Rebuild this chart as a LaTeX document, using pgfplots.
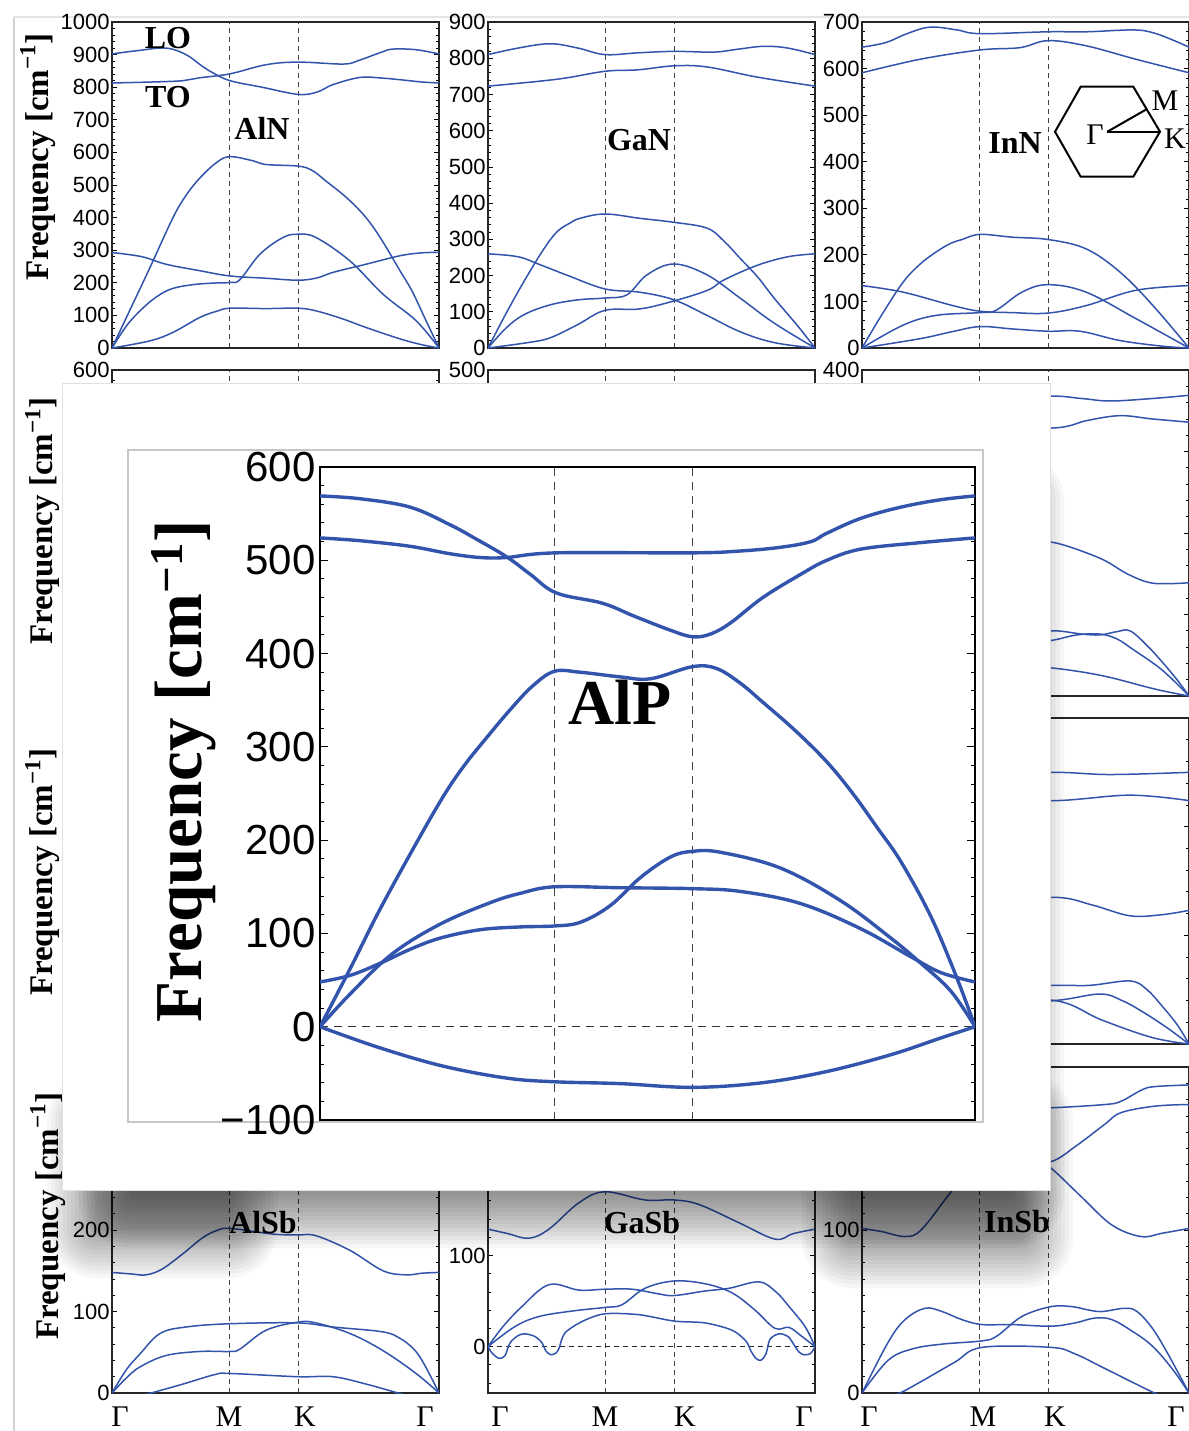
\documentclass[border=0pt]{standalone}
\usepackage{fontspec}
\setmainfont{Liberation Serif}
\setsansfont{Liberation Sans}
\usepackage{pgfplots}
\pgfplotsset{compat=1.18}
\definecolor{band}{RGB}{50,84,172}
\pgfplotsset{
  bs/.style={band, line width=0.75pt, smooth, tension=0.6, no markers},
  bl/.style={band, line width=1.7pt, smooth, tension=0.6, no markers},
  panel/.style={
    scale only axis, width=163.5pt, height=163pt,
    anchor=south west,
    xmin=0, xmax=327,
    xtick={117,186}, xticklabels={}, xmajorgrids,
    major grid style={dash pattern=on 2.5pt off 2pt, black!75, line width=0.45pt},
    xtick style={draw=none},
    ytick style={black, line width=0.4pt},
    major tick length=2.5pt, minor tick length=1.3pt,
    minor y tick num=4,
    axis line style={line width=0.7pt, black!85},
    yticklabel style={font=\fontsize{11}{11}\sffamily, inner sep=1pt},
    /pgf/number format/assume math mode=true,
    /pgf/number format/1000 sep={},
  },
}
\newcommand{\lab}[1]{\fontsize{16}{16}\selectfont\bfseries #1}
\newcommand{\flab}{\fontsize{16.5}{16.5}\selectfont\bfseries Frequency [cm\textsuperscript{−1}]}
\begin{document}
\begin{tikzpicture}[x=0.5pt,y=-0.5pt]
\useasboundingbox (0,0) rectangle (1189,1431);
\fill[white] (0,0) rectangle (1189,1431);
\draw[black!18, line width=0.8pt] (14,17) -- (14,1431);
\draw[black!10, line width=0.8pt] (14,17) -- (1189,17);

% ---------------- Row 1 ----------------
\begin{axis}[panel, at={(56pt,-174pt)}, ymin=0, ymax=1000, ytick={0,100,...,1000}]
\addplot[bs] coordinates {(0,902) (25,912) (54,920) (74,900) (90,865) (101,844) (118,820) (150,800) (186,778) (205,785) (221,808) (248,830) (270,828) (288,823) (310,816) (327,813)};
\addplot[bs] coordinates {(0,813) (40,816) (71,820) (88,829) (118,841) (154,869) (186,877) (231,871) (245,880) (254,890) (270,908) (281,917) (304,915) (327,902)};
\addplot[bs] coordinates {(0,0) (20,130) (38,247) (61,400) (74,468) (88,522) (105,570) (118,587) (140,575) (154,563) (186,558) (200,545) (214,512) (235,460) (254,400) (270,330) (288,237) (300,175) (314,84) (327,0)};
\addplot[bs] coordinates {(0,293) (30,280) (54,257) (88,237) (118,221) (154,214) (186,208) (205,215) (221,232) (254,257) (288,283) (310,292) (327,293)};
\addplot[bs] coordinates {(0,0) (15,70) (30,120) (45,158) (60,182) (80,194) (100,199) (118,201) (128,210) (148,288) (171,339) (186,349) (204,339) (238,267) (271,165) (304,84) (327,0)};
\addplot[bs] coordinates {(0,0) (38,22) (61,48) (88,94) (105,113) (118,122) (154,121) (186,122) (204,114) (230,90) (254,63) (288,28) (310,10) (327,0)};
\end{axis}

\begin{axis}[panel, at={(244pt,-174pt)}, ymin=0, ymax=900, ytick={0,100,...,900}]
\addplot[bs] coordinates {(0,810) (30,828) (62,840) (90,828) (117,810) (150,815) (186,819) (226,817) (250,825) (276,833) (300,828) (327,810)};
\addplot[bs] coordinates {(0,723) (69,742) (117,764) (150,768) (186,779) (219,776) (269,748) (327,723)};
\addplot[bs] coordinates {(0,0) (18,95) (36,184) (55,270) (69,321) (82,345) (92,358) (117,370) (152,358) (186,347) (219,331) (236,295) (252,248) (270,195) (286,138) (310,60) (327,0)};
\addplot[bs] coordinates {(0,260) (30,252) (52,230) (80,200) (117,163) (152,154) (186,133) (219,90) (252,45) (286,15) (327,0)};
\addplot[bs] coordinates {(0,0) (40,15) (62,28) (90,65) (117,104) (152,108) (186,130) (220,160) (236,188) (269,228) (300,252) (327,260)};
\addplot[bs] coordinates {(0,0) (18,55) (36,92) (62,119) (90,133) (117,138) (139,147) (159,202) (186,232) (219,202) (252,138) (286,69) (327,0)};
\end{axis}

\begin{axis}[panel, at={(431pt,-174pt)}, ymin=0, ymax=700, ytick={0,100,...,700}]
\addplot[bs] coordinates {(0,646) (24,656) (45,675) (68,689) (95,683) (118,675) (186,679) (224,679) (271,683) (291,677) (310,662) (327,646)};
\addplot[bs] coordinates {(0,591) (58,620) (118,640) (158,645) (186,660) (224,649) (274,620) (327,591)};
\addplot[bs] coordinates {(0,0) (20,72) (41,141) (58,180) (74,206) (88,224) (100,233) (118,244) (150,238) (186,233) (224,213) (258,163) (291,91) (327,0)};
\addplot[bs] coordinates {(0,134) (41,120) (91,91) (118,79) (150,76) (186,75) (224,91) (274,124) (327,134)};
\addplot[bs] coordinates {(0,0) (41,49) (74,70) (118,76) (134,81) (160,120) (186,136) (224,120) (274,63) (327,0)};
\addplot[bs] coordinates {(0,0) (58,20) (90,35) (118,46) (150,41) (186,36) (218,36) (258,16) (300,4) (327,0)};
\end{axis}

% ---------------- Row 2 ----------------
\begin{axis}[panel, at={(56pt,-348pt)}, ymin=0, ymax=600, ytick={0,100,...,600}]
\addplot[draw=none] coordinates {(0,0)};
\end{axis}
\begin{axis}[panel, at={(244pt,-348pt)}, ymin=0, ymax=500, ytick={0,100,...,500}]
\addplot[draw=none] coordinates {(0,0)};
\end{axis}
\begin{axis}[panel, at={(431pt,-348pt)}, ymin=0, ymax=400, ytick={0,100,...,400}]
\addplot[bs] coordinates {(0,369) (60,365) (118,362) (186,368) (220,365) (248,362) (290,365) (327,369)};
\addplot[bs] coordinates {(0,336) (60,332) (118,330) (193,329) (225,338) (258,344) (290,340) (327,336)};
\addplot[bs] coordinates {(0,139) (50,150) (118,175) (170,186) (193,188) (238,169) (265,150) (288,139) (310,138) (327,139)};
\addplot[bs] coordinates {(0,0) (50,45) (118,78) (160,78) (193,80) (220,76) (238,75) (255,79) (268,80) (285,62) (300,42) (315,20) (327,0)};
\addplot[bs] coordinates {(0,0) (50,30) (118,55) (160,62) (193,69) (215,75) (238,76) (255,70) (270,58) (300,32) (327,0)};
\addplot[bs] coordinates {(0,0) (60,20) (118,35) (160,36) (193,34) (240,25) (288,10) (310,4) (327,0)};
\end{axis}

% ---------------- Row 3 ----------------
\begin{axis}[panel, at={(431pt,-522pt)}, ymin=0, ymax=300, ytick={0,100,...,300}]
\addplot[bs] coordinates {(0,250) (118,248) (193,250) (248,248) (327,250)};
\addplot[bs] coordinates {(0,224) (118,227) (193,224) (268,229) (327,224)};
\addplot[bs] coordinates {(0,123) (60,126) (118,131) (193,135) (230,128) (268,118) (300,119) (327,123)};
\addplot[bs] coordinates {(0,0) (60,40) (118,52) (193,54) (228,54) (268,58) (285,50) (300,35) (315,18) (327,0)};
\addplot[bs] coordinates {(0,0) (60,28) (118,36) (193,40) (238,46) (260,40) (280,30) (305,15) (327,0)};
\addplot[bs] coordinates {(0,0) (60,25) (118,38) (193,40) (240,22) (290,6) (327,0)};
\end{axis}

% ---------------- Row 4 ----------------
\begin{axis}[panel, at={(56pt,-696.5pt)}, ymin=0, ymax=400, ytick={0,100,...,400}]
\addplot[bs] coordinates {(0,148) (20,146) (34,145) (50,152) (71,171) (90,190) (104,199) (118,202) (161,195) (186,194) (204,193) (238,175) (271,150) (294,145) (310,147) (327,148)};
\addplot[bs] coordinates {(0,0) (14,28) (28,48) (48,73) (74,81) (118,85) (186,86) (221,81) (271,75) (288,67) (300,56) (308,44) (318,22) (327,0)};
\addplot[bs] coordinates {(0,0) (14,18) (28,32) (54,46) (88,51) (118,51) (128,54) (154,77) (186,87) (204,86) (238,73) (271,52) (304,24) (327,0)};
\addplot[bs] coordinates {(0,-12) (20,-6) (39,0) (71,11) (104,23) (118,24) (186,20) (221,20) (254,11) (286,0) (310,-8) (327,-12)};
\end{axis}

\begin{axis}[panel, at={(244pt,-696.5pt)}, ymin=-51, ymax=307, ytick={0,100,200,300},
  minor ytick={-40,-20,20,40,60,80,120,140,160,180,220,240,260,280}]
\draw[dash pattern=on 2.5pt off 2pt, black!85, line width=0.45pt] (axis cs:0,0) -- (axis cs:327,0);
\addplot[bs] coordinates {(0,129) (20,124) (41,119) (61,129) (91,158) (117,170) (157,161) (186,161) (211,156) (251,136) (287,118) (305,124) (327,129)};
\addplot[bs] coordinates {(0,0) (15,22) (34,44) (61,68) (91,62) (117,63) (144,63) (170,58) (186,56) (217,61) (241,64) (271,71) (288,60) (301,44) (317,22) (327,0)};
\addplot[bs] coordinates {(0,0) (27,22) (51,33) (84,39) (117,43) (134,46) (157,64) (186,72) (217,69) (244,59) (267,40) (287,20) (301,21) (314,11) (327,0)};
\addplot[bs, tension=0.5] coordinates {(0,0) (4,-7) (11,-13) (17,-10) (22,4) (30,12) (37,14) (47,11) (54,4) (58,-5) (63,-9) (68,-7) (71,-2) (77,15) (95,28) (117,36) (151,35) (186,28) (217,26) (244,18) (258,6) (263,-5) (268,-13) (273,-15) (278,-8) (282,8) (291,14) (300,11) (306,2) (311,-6) (316,-9) (322,-8) (325,-4) (327,0)};
\end{axis}

\begin{axis}[panel, at={(431pt,-696.5pt)}, ymin=0, ymax=200, ytick={0,100,200}, minor y tick num=9]
\addplot[bs] coordinates {(0,189) (30,188) (60,182) (90,178) (120,176) (150,175) (189,175) (243,177) (259,179) (280,186) (293,188) (327,189)};
\addplot[bs] coordinates {(0,177) (40,172) (80,160) (120,150) (160,143) (189,142) (215,152) (243,165) (259,172) (293,176) (327,177)};
\addplot[bs] coordinates {(0,101) (20,99) (43,96) (59,100) (86,121) (110,140) (140,150) (170,145) (189,138) (220,120) (250,103) (279,96) (300,98) (327,101)};
\addplot[bs] coordinates {(0,0) (26,31) (43,45) (63,52) (80,50) (100,45) (120,42) (150,42) (189,41) (213,43) (233,46) (250,45) (270,38) (290,29) (310,15) (327,0)};
\addplot[bs] coordinates {(0,0) (26,20) (50,27) (80,30) (120,32) (135,35) (160,47) (189,53) (210,53) (226,51) (240,50) (263,52) (275,50) (290,40) (305,25) (327,0)};
\addplot[bs] coordinates {(0,-8) (20,-4) (38,0) (59,7) (93,19) (120,28) (189,28) (213,24) (243,15) (289,1) (305,-3) (327,-6)};
\end{axis}

% ---------------- labels ----------------
\node at (168,38) {\lab{LO}};
\node at (168,97) {\lab{TO}};
\node at (262,128) {\lab{AlN}};
\node at (639,140) {\lab{GaN}};
\node at (1015,143) {\lab{InN}};
\node at (263,1223) {\lab{AlSb}};
\node at (642,1223) {\lab{GaSb}};
\node at (1017,1222) {\lab{InSb}};

\node[rotate=90, anchor=base] at (48,157) {\flab};
\node[rotate=90, anchor=base] at (53,521) {\flab};
\node[rotate=90, anchor=base] at (53,872) {\flab};
\node[rotate=90, anchor=base] at (58,1216) {\flab};

% hexagon
\draw[black, line width=1pt] (1080.7,86.7) -- (1133.3,86.7) -- (1160,131.7) -- (1133.3,176.7) -- (1080.7,176.7) -- (1055,131.7) -- cycle;
\draw[black, line width=1pt] (1107.3,131.7) -- (1160,131.7);
\draw[black, line width=1pt] (1107.3,131.7) -- (1146.7,109.2);
\node at (1095,135) {\fontsize{15}{15}\selectfont Γ};
\node at (1165,101) {\fontsize{15}{15}\selectfont M};
\node at (1175,139) {\fontsize{15}{15}\selectfont K};

% k-point labels
\foreach \xx/\tt in {120/Γ,229/M,305/K,425/Γ,500/Γ,605/M,685/K,804/Γ,869/Γ,983/M,1055/K,1176/Γ}{
  \node[anchor=base] at (\xx,1426) {\fontsize{15}{15}\selectfont \tt};
}

% ---------------- shadow + inset ----------------
\foreach \k in {0,...,13}{
  \fill[black, opacity=0.035, rounded corners=\k*2pt+1pt] ({130-\k*4},{500-\k*4}) rectangle ({1012+\k*4},{1196+\k*4});
}
\foreach \k in {0,...,12}{
  \fill[black, opacity=0.03, rounded corners=\k*2pt+1pt] ({95-\k*4},{1120-\k*4}) rectangle ({230+\k*4},{1230+\k*4});
  \fill[black, opacity=0.03, rounded corners=\k*2pt+1pt] ({850-\k*4},{1120-\k*4}) rectangle ({1025+\k*4},{1240+\k*4});
}
\fill[white] (62,383) rectangle (1050,1190);
\draw[black!12, line width=0.5pt] (62,383) rectangle (1050,1190);
\draw[black!22, line width=1pt] (128,450) rectangle (983,1122);

\begin{axis}[scale only axis, width=327.5pt, height=326.5pt, anchor=south west, at={(160pt,-560pt)},
  xmin=0, xmax=327, ymin=-100, ymax=600,
  ytick={-100,0,...,600}, yticklabels={−100,0,100,200,300,400,500,600},
  minor y tick num=4,
  xtick={117,186}, xticklabels={}, xmajorgrids,
  major grid style={dash pattern=on 4pt off 3pt, black!75, line width=0.5pt},
  xtick style={draw=none},
  ytick style={black, line width=0.5pt},
  major tick length=4pt, minor tick length=2pt,
  axis line style={line width=0.8pt, black},
  yticklabel style={font=\fontsize{21}{21}\sffamily, inner sep=2pt}]
\draw[dash pattern=on 4pt off 3pt, black!80, line width=0.5pt] (axis cs:0,0) -- (axis cs:327,0);
\addplot[bl] coordinates {(0,569) (20,566) (45,557) (65,538) (77,524) (93,504) (105,485) (118,465) (141,454) (157,440) (175,425) (186,418) (195,421) (205,433) (221,460) (240,485) (253,500) (270,512) (300,519) (327,524)};
\addplot[bl] coordinates {(0,524) (20,521) (45,515) (65,507) (80,503) (93,503) (118,508) (186,508) (210,510) (230,514) (245,520) (253,529) (270,545) (290,557) (310,565) (327,569)};
\addplot[bl] coordinates {(0,0) (15,62) (29,122) (45,185) (61,245) (72,280) (84,312) (95,340) (106,365) (117,381) (130,380) (150,375) (165,373) (186,386) (198,384) (210,368) (221,348) (237,318) (253,284) (266,250) (278,214) (290,177) (305,118) (318,52) (327,0)};
\addplot[bl] coordinates {(0,0) (15,35) (36,78) (60,110) (85,133) (100,143) (117,150) (150,149) (186,148) (210,145) (240,132) (270,105) (295,75) (310,58) (327,48)};
\addplot[bl] coordinates {(0,48) (15,55) (30,68) (45,83) (60,95) (80,104) (100,107) (117,108) (130,112) (145,130) (160,160) (175,182) (186,188) (200,187) (230,170) (260,135) (285,95) (300,68) (315,38) (327,0)};
\addplot[bl] coordinates {(0,0) (29,-22) (61,-42) (93,-55) (117,-59) (150,-61) (186,-65) (221,-60) (253,-48) (285,-30) (310,-12) (327,0)};
\end{axis}
\node at (620,702) {\fontsize{32}{32}\selectfont\bfseries AlP};
\node[rotate=90, anchor=base] at (201,771) {\fontsize{33.5}{33.5}\selectfont\bfseries Frequency [cm\textsuperscript{−1}]};
\end{tikzpicture}
\end{document}
